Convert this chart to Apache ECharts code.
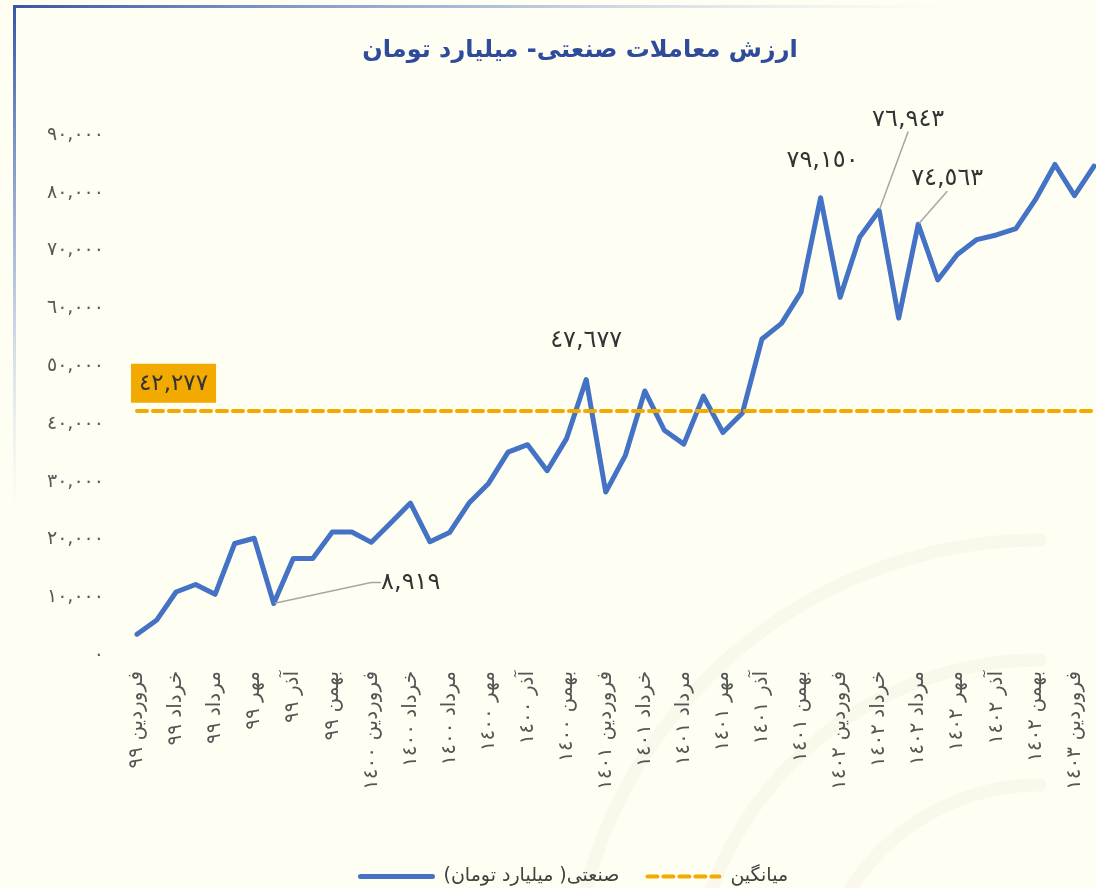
<!DOCTYPE html>
<html>
<head>
<meta charset="utf-8">
<title>ارزش معاملات صنعتی</title>
<script src="https://cdn.jsdelivr.net/npm/echarts@6/dist/echarts.min.js"></script>
<style>
  html, body { margin: 0; padding: 0; background: #fffef3; }
  #mychart { width: 1096px; height: 888px; }
</style>
</head>
<body>
<div id="mychart"></div>
<script>
  // ماه‌ها و سال‌ها
  const months = ['فروردین', 'اردیبهشت', 'خرداد', 'تیر', 'مرداد', 'شهریور', 'مهر', 'آبان', 'آذر', 'دی', 'بهمن', 'اسفند']
  const years = ['٩٩', '١٤٠٠', '١٤٠١', '١٤٠٢', '١٤٠٣']

  // فروردین ۹۹ تا اردیبهشت ۱۴۰۳ (۵۰ ماه)
  const categories = []
  years.forEach(y => months.forEach(m => categories.push(m + ' ' + y)))
  categories.length = 50

  // ارزش معاملات صنعتی - میلیارد تومان
  const values = [
    3600, 6000, 10900, 12200, 10500, 19300, 20200, 8919, 16700, 16700,
    21300, 21300, 19500, 22900, 26300, 19600, 21200, 26300, 29700, 35100,
    36400, 31900, 37500, 47677, 28200, 34500, 45700, 38900, 36500, 44800,
    38500, 41900, 54700, 57400, 62800, 79150, 61900, 72300, 76943, 58300,
    74563, 64900, 69300, 71900, 72700, 73800, 78800, 84900, 79500, 84600,
  ]
  const avgValue = 42277
  const yTicks = [0, 10000, 20000, 30000, 40000, 50000, 60000, 70000, 80000, 90000]

  // نقاط دارای برچسب
  const labeled = [7, 23, 35, 38, 40]

  const faDigits = '٠١٢٣٤٥٦٧٨٩'
  function toFa(n) {
    return Number(n).toLocaleString('en-US').replace(/\d/g, d => faDigits[d])
  }

  // تنظیم برچسب هر نقطه: جابجایی، فاصله و خط راهنما
  const labelConf = {
    7: { shift: [132, -3], padding: [0, 0, 0, 10], leader: true, length2: 10 },
    23: { shift: [0, -21], padding: 0, leader: false },
    35: { shift: [2, -19], padding: 0, leader: false },
    38: { shift: [29, -62], padding: [0, 0, 11, 0], leader: true, length2: 0 },
    40: { shift: [29, -16], padding: [0, 0, 11, 0], leader: true, length2: 0 },
  }

  const seriesData = values.map((v, i) => {
    if (labeled.indexOf(i) < 0) return v
    const c = labelConf[i]
    return {
      value: v,
      symbol: 'circle',
      symbolSize: 2,
      label: { show: true, padding: c.padding },
      labelLine: { show: c.leader, length2: c.length2 || 0 },
    }
  })

  const font = 'DejaVu Sans'
  const blue = '#4472c4'
  const orange = '#f2a900'
  const faint = '#faf8eb'

  // لوگوی کم‌رنگ پس‌زمینه
  const rings = [470, 350, 225].map(r => ({
    type: 'arc',
    silent: true,
    z: -10,
    shape: { cx: 1040, cy: 1010, r: r, startAngle: Math.PI, endAngle: Math.PI * 1.5 },
    style: { stroke: faint, lineWidth: 13, fill: null, lineCap: 'round' },
  }))

  const option = {
    backgroundColor: '#fffef3',
    animation: false,
    textStyle: { fontFamily: font },
    title: {
      text: 'ارزش معاملات صنعتی- میلیارد تومان',
      left: 575,
      top: 34,
      textAlign: 'center',
      textStyle: { fontFamily: font, fontSize: 24, fontWeight: 'bold', color: '#2f4b9b' },
    },
    graphic: rings.concat([
      {
        type: 'rect',
        left: 13,
        top: 5,
        shape: { width: 940, height: 3 },
        style: {
          fill: {
            type: 'linear', x: 0, y: 0, x2: 1, y2: 0,
            colorStops: [
              { offset: 0, color: '#3656a6' },
              { offset: 0.5, color: 'rgba(120,145,200,0.6)' },
              { offset: 1, color: 'rgba(200,210,230,0)' },
            ],
          },
        },
        silent: true,
      },
      {
        type: 'rect',
        left: 13,
        top: 5,
        shape: { width: 3, height: 510 },
        style: {
          fill: {
            type: 'linear', x: 0, y: 0, x2: 0, y2: 1,
            colorStops: [
              { offset: 0, color: '#3656a6' },
              { offset: 0.5, color: 'rgba(120,145,200,0.6)' },
              { offset: 1, color: 'rgba(200,210,230,0)' },
            ],
          },
        },
        silent: true,
      },
    ]),
    legend: {
      left: 353,
      top: 862,
      itemWidth: 72,
      itemHeight: 14,
      itemGap: 26,
      itemStyle: { opacity: 0 },
      lineStyle: { width: 'inherit', cap: 'round' },
      textStyle: { fontFamily: font, fontSize: 19, color: '#404040', padding: [0, 0, 0, 6] },
      data: ['صنعتی( میلیارد تومان)', 'میانگین'],
    },
    grid: {
      left: 137,
      right: 2,
      top: 135,
      bottom: 233,
    },
    xAxis: {
      type: 'category',
      data: categories,
      boundaryGap: false,
      axisLine: { show: false },
      axisTick: { show: false },
      splitLine: { show: false },
      axisLabel: {
        rotate: 90,
        interval: 1,
        margin: 16,
        fontFamily: font,
        fontSize: 20,
        color: '#555555',
      },
    },
    yAxis: {
      type: 'value',
      min: yTicks[0],
      max: yTicks[yTicks.length - 1],
      interval: 10000,
      axisLine: { show: false },
      axisTick: { show: false },
      splitLine: { show: false },
      axisLabel: {
        margin: 33,
        fontFamily: font,
        fontSize: 19,
        color: '#595959',
        formatter: v => toFa(v),
      },
    },
    series: [
      {
        name: 'صنعتی( میلیارد تومان)',
        type: 'line',
        data: seriesData,
        symbol: 'none',
        lineStyle: { color: blue, width: 5, join: 'round', cap: 'round' },
        itemStyle: { color: blue },
        label: {
          position: 'top',
          distance: 5,
          fontFamily: font,
          fontSize: 24,
          color: '#333333',
          formatter: p => toFa(p.value),
        },
        labelLine: {
          show: false,
          lineStyle: { color: '#a6a6a6', width: 1.5 },
        },
        labelLayout: p => {
          const c = labelConf[p.dataIndex]
          return c ? { dx: c.shift[0], dy: c.shift[1] } : {}
        },
        z: 3,
      },
      {
        name: 'میانگین',
        type: 'line',
        data: [],
        symbol: 'none',
        itemStyle: { color: orange },
        lineStyle: { color: orange, width: 4, type: [10, 6], cap: 'round' },
        markLine: {
          silent: true,
          symbol: 'none',
          lineStyle: { color: orange, width: 4, type: [10, 6], cap: 'round' },
          label: {
            show: true,
            position: 'insideStartTop',
            distance: [-6, 8],
            backgroundColor: orange,
            padding: [9, 8, 7, 8],
            fontFamily: font,
            fontSize: 23,
            color: '#333333',
            formatter: () => toFa(avgValue),
          },
          data: [{ yAxis: avgValue }],
        },
        z: 2,
      },
    ],
  }

  const myChart = echarts.init(document.getElementById('mychart'))
  myChart.setOption(option)
  window.addEventListener('resize', () => {
    myChart.resize()
  })
</script>
</body>
</html>
